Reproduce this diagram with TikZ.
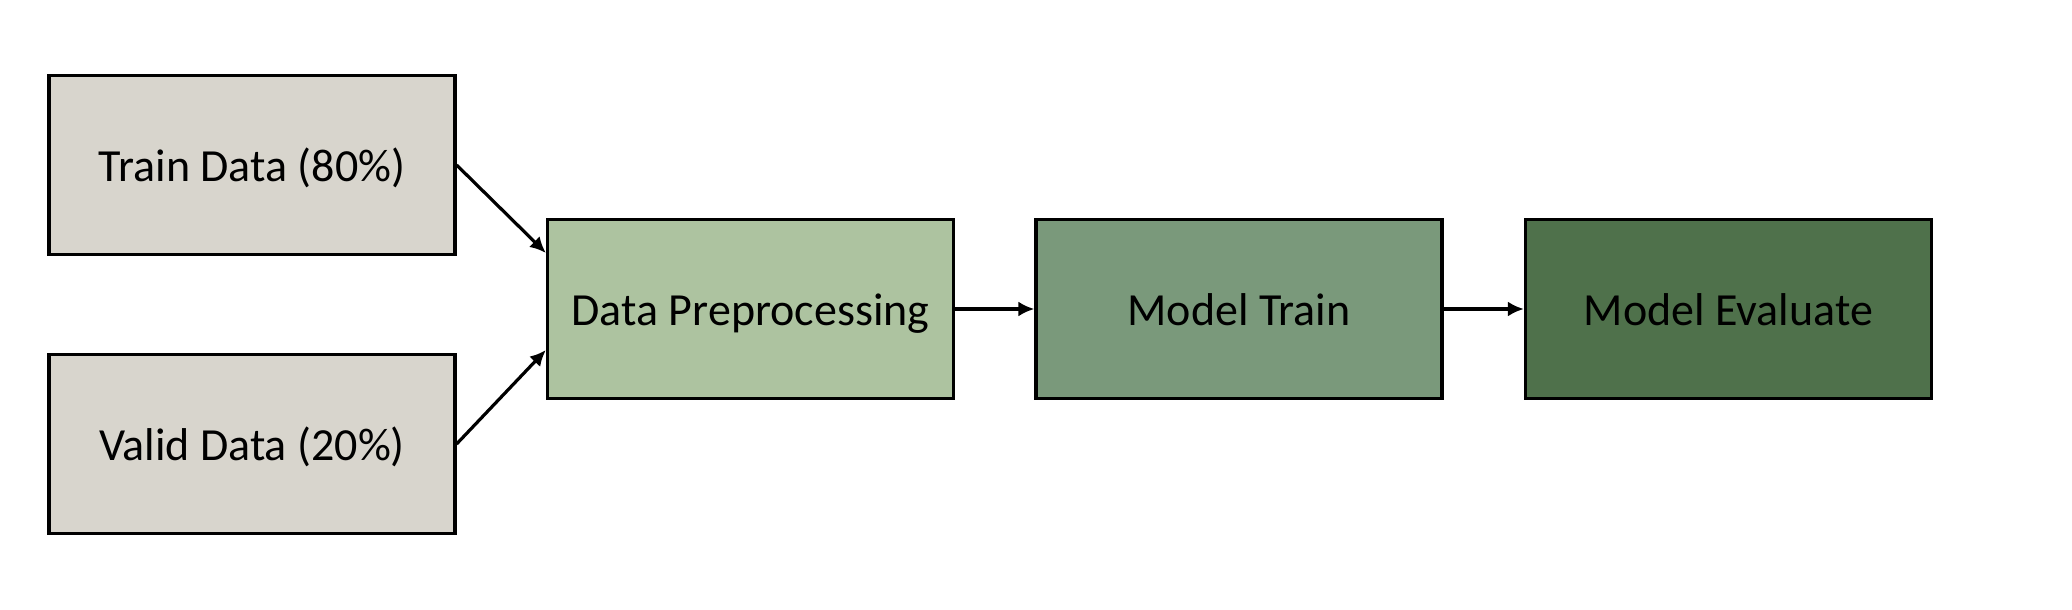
\documentclass[tikz,border=0pt]{standalone}
\usepackage{fontspec}
\setmainfont{Carlito}
\usetikzlibrary{arrows.meta}
\definecolor{datagray}{HTML}{D8D5CD}
\definecolor{prepgreen}{HTML}{ADC3A0}
\definecolor{traingreen}{HTML}{7A997B}
\definecolor{evalgreen}{HTML}{4F714B}
\tikzset{
  stagebox/.style={draw=black, line width=1.6pt, minimum width=203pt, minimum height=89.5pt,
    inner sep=0pt, font=\fontsize{23}{27}\selectfont, text=black,
    text height=16pt, text depth=0pt},
  flowarrow/.style={line width=1.6pt, -{Latex[length=8pt,width=7.5pt]}}
}
\begin{document}
\begin{tikzpicture}[x=0.5pt, y=-0.5pt]
\useasboundingbox (0,0) rectangle (2072,610);
\node[stagebox, fill=datagray] (train) at (252,165) {Train Data (80\%)};
\node[stagebox, fill=datagray] (valid) at (252,444) {Valid Data (20\%)};
\node[stagebox, fill=prepgreen] (prep) at (750.5,309) {Data Preprocessing};
\node[stagebox, fill=traingreen] (model) at (1239,309) {Model Train};
\node[stagebox, fill=evalgreen] (eval) at (1728.5,309) {Model Evaluate};
\draw[flowarrow] (train.east) -- ([yshift=28pt]prep.west);
\draw[flowarrow] (valid.east) -- ([yshift=-20.5pt]prep.west);
\draw[flowarrow] (prep.east) -- (model.west);
\draw[flowarrow] (model.east) -- (eval.west);
\end{tikzpicture}
\end{document}
